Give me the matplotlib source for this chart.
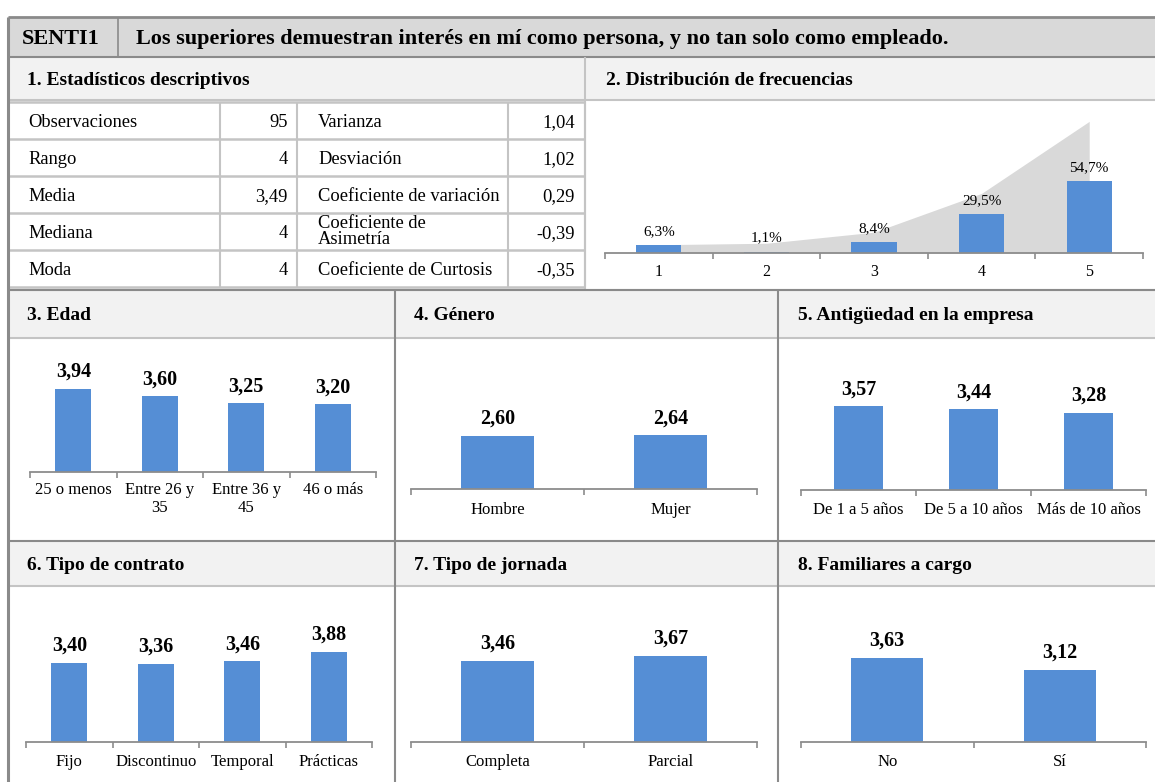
import textwrap
import numpy as np
import matplotlib
matplotlib.use("Agg")
import matplotlib.pyplot as plt
from matplotlib.patches import Rectangle

plt.rcParams['font.family'] = ['Liberation Serif', 'DejaVu Serif']

# ---------------- data ----------------
item_code = "SENTI1"
item_text = "Los superiores demuestran interés en mí como persona, y no tan solo como empleado."

stats_left_labels = ["Observaciones", "Rango", "Media", "Mediana", "Moda"]
stats_left_values = ["95", "4", "3,49", "4", "4"]
stats_right_labels = ["Varianza", "Desviación", "Coeficiente de variación",
                      "Coeficiente de\nAsimetría", "Coeficiente de Curtosis"]
stats_right_values = ["1,04", "1,02", "0,29", "-0,39", "-0,35"]

freq_categories = ["1", "2", "3", "4", "5"]
freq_pct = [6.3, 1.1, 8.4, 29.5, 54.7]

edad_cats = ["25 o menos", "Entre 26 y 35", "Entre 36 y 45", "46 o más"]
edad_vals = [3.94, 3.60, 3.25, 3.20]

genero_cats = ["Hombre", "Mujer"]
genero_vals = [2.60, 2.64]

antig_cats = ["De 1 a 5 años", "De 5 a 10 años", "Más de 10 años"]
antig_vals = [3.57, 3.44, 3.28]

contrato_cats = ["Fijo", "Discontinuo", "Temporal", "Prácticas"]
contrato_vals = [3.40, 3.36, 3.46, 3.88]

jornada_cats = ["Completa", "Parcial"]
jornada_vals = [3.46, 3.67]

familiares_cats = ["No", "Sí"]
familiares_vals = [3.63, 3.12]

section_titles = ["1. Estadísticos descriptivos", "2. Distribución de frecuencias",
                  "3. Edad", "4. Género", "5. Antigüedad en la empresa",
                  "6. Tipo de contrato", "7. Tipo de jornada", "8. Familiares a cargo"]

# ---------------- style ----------------
W, H = 1155, 782
BAR = "#558ed5"
AXC = "#8c8c8c"
TITLE_BG = "#f2f2f2"
HEAD_BG = "#d9d9d9"
GRID = "#c4c4c4"
FRAME = "#8a8a8a"

fig = plt.figure(figsize=(W / 100, H / 100), dpi=100)
fig.patch.set_facecolor("white")
bg = fig.add_axes([0, 0, 1, 1])
bg.set_xlim(0, W)
bg.set_ylim(H, 0)
bg.axis("off")


def rect(x0, y0, x1, y1, fc):
    bg.add_patch(Rectangle((x0, y0), x1 - x0, y1 - y0, facecolor=fc, edgecolor="none", zorder=0))


def hline(y, x0, x1, c=GRID, lw=1.5):
    bg.plot([x0, x1], [y, y], color=c, lw=lw, zorder=1, solid_capstyle="butt")


def vline(x, y0, y1, c=GRID, lw=1.5):
    bg.plot([x, x], [y0, y1], color=c, lw=lw, zorder=1, solid_capstyle="butt")


def ctext(x, yc, s, size, **kw):
    # place text so that capital letters are vertically centred on yc (pixels)
    cap = 0.66 * size * 100 / 72
    bg.text(x, yc + cap / 2, s, fontsize=size, va="baseline", **kw)


L = 8
# header
rect(L, 17, W, 57, HEAD_BG)
ctext(22, 37, item_code, 16, fontweight="bold", ha="left")
ctext(136, 37, item_text, 16, fontweight="bold", ha="left")
vline(118, 17, 57, c=FRAME, lw=1.2)
hline(17, L, W, c=FRAME, lw=2)
hline(57, L, W, c=FRAME, lw=1.5)

# row 1 title bars
rect(L, 58, W, 100, TITLE_BG)
hline(100, L, W, c=GRID, lw=1.5)
ctext(27, 79, section_titles[0], 14, fontweight="bold")
ctext(606, 79, section_titles[1], 14, fontweight="bold")
vline(585, 57, 290, c=GRID, lw=1.5)

# stats table
row_edges = [102, 139, 176, 213, 250, 287]
col_edges = [L, 220, 297, 508, 585]
for y in row_edges:
    hline(y, L, 585, c=GRID, lw=1.8)
for x in col_edges[1:]:
    vline(x, 102, 287, c=GRID, lw=1.5)
TS = 13.3
for i in range(5):
    yc = (row_edges[i] + row_edges[i + 1]) / 2
    ctext(28, yc, stats_left_labels[i], TS, ha="left")
    ctext(288, yc, stats_left_values[i], TS, ha="right")
    if "\n" in stats_right_labels[i]:
        bg.text(318, yc, stats_right_labels[i], fontsize=TS, va="center", ha="left",
                linespacing=0.9)
    else:
        ctext(318, yc, stats_right_labels[i], TS, ha="left")
    ctext(575, yc, stats_right_values[i], TS, ha="right")

# row 2 / row 3 title bars and frames
for (ty0, ty1, py1, titles) in [(290, 338, 540, section_titles[2:5]),
                                (541, 586, 782, section_titles[5:8])]:
    rect(L, ty0, W, ty1, TITLE_BG)
    hline(ty0, L, W, c=FRAME if ty0 == 541 else GRID, lw=1.5)
    hline(ty1, L, W, c=GRID, lw=1.5)
    vline(395, ty0, py1, c=FRAME, lw=1.5)
    vline(778, ty0, py1, c=FRAME, lw=1.5)
    for xt, t in zip([27, 414, 798], titles):
        ctext(xt, (ty0 + ty1) / 2, t, 14, fontweight="bold")
hline(290, L, W, c=FRAME, lw=1.5)

# outer left frame
vline(L, 17, H, c=FRAME, lw=2.2)


def fmt(v, nd=2):
    return f"{v:.{nd}f}".replace(".", ",")


def style_axis(ax, n, labels, size, pad, linespacing=1.2):
    ax.set_xlim(-0.5, n - 0.5)
    for s in ["left", "right", "top"]:
        ax.spines[s].set_visible(False)
    ax.spines["bottom"].set_color(AXC)
    ax.spines["bottom"].set_linewidth(1.3)
    ax.set_yticks([])
    ax.set_xticks(np.arange(n))
    ax.set_xticklabels(labels, fontsize=size, linespacing=linespacing)
    ax.tick_params(axis="x", which="major", length=0, pad=pad)
    ax.set_xticks(np.arange(n + 1) - 0.5, minor=True)
    ax.tick_params(axis="x", which="minor", length=4, width=1.2, color=AXC, direction="out")
    ax.patch.set_alpha(0)


def bar_panel(cats, vals, xl, xr, base, ppu, wrap=None, hpx=130, label_pad=9):
    n = len(cats)
    ax = fig.add_axes([xl / W, (H - base) / H, (xr - xl) / W, hpx / H])
    x = np.arange(n)
    ax.bar(x, vals, width=0.42, color=BAR, zorder=2)
    ax.set_ylim(0, hpx / ppu)
    labels = [textwrap.fill(c, wrap) if wrap else c for c in cats]
    style_axis(ax, n, labels, 12, label_pad, linespacing=1.2)
    for i, v in enumerate(vals):
        ax.annotate(fmt(v), (i, v), xytext=(0, 5), textcoords="offset points",
                    ha="center", va="bottom", fontsize=14.5, fontweight="bold",
                    annotation_clip=False)
    return ax


# distribution of frequencies
ppu_d = 72 / 54.7
hd = 140
axd = fig.add_axes([605 / W, (H - 253) / H, (1143 - 605) / W, hd / H])
xd = np.arange(len(freq_categories))
cum = np.cumsum(freq_pct)
axd.fill_between(xd, 0, cum, color="#d9d9d9", zorder=1, linewidth=0)
axd.bar(xd, freq_pct, width=0.42, color=BAR, zorder=2)
axd.set_ylim(0, hd / ppu_d)
style_axis(axd, len(xd), freq_categories, 11.5, 8)
for i, v in enumerate(freq_pct):
    axd.annotate(fmt(v, 1) + "%", (i, v), xytext=(0, 5), textcoords="offset points",
                 ha="center", va="bottom", fontsize=11, annotation_clip=False)

bar_panel(edad_cats, edad_vals, 30, 376, 472, 21.1, wrap=10, label_pad=7)
bar_panel(genero_cats, genero_vals, 411, 757, 489, 20.4)
bar_panel(antig_cats, antig_vals, 801, 1146, 490, 23.5)
bar_panel(contrato_cats, contrato_vals, 26, 372, 742, 23.3)
bar_panel(jornada_cats, jornada_vals, 411, 757, 742, 23.5)
bar_panel(familiares_cats, familiares_vals, 801, 1146, 742, 23.2)

fig.savefig("out.png", dpi=100, facecolor="white")
